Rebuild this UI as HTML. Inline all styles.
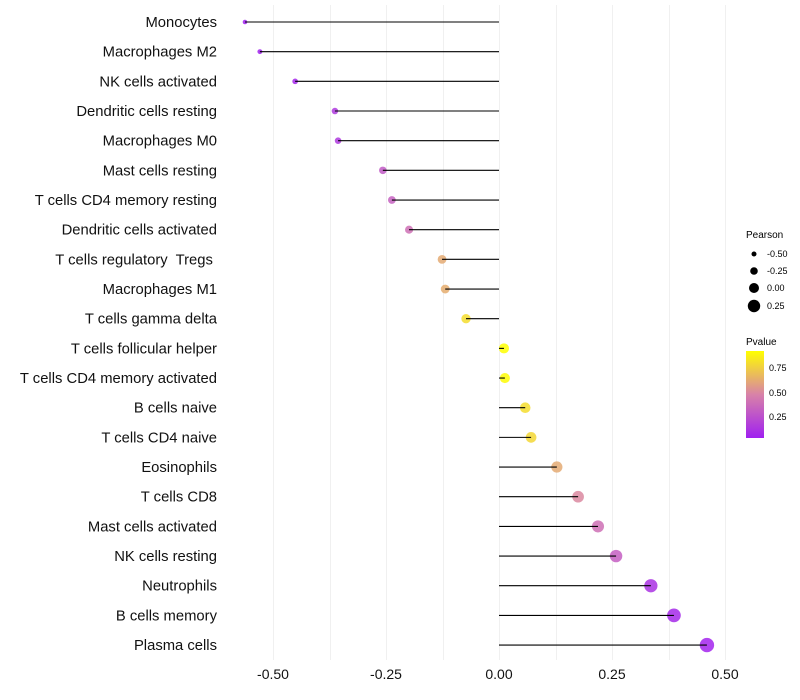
<!DOCTYPE html>
<html><head><meta charset="utf-8"><style>
body{margin:0;background:#fff;font-family:"Liberation Sans",sans-serif;}
svg{display:block}
text{white-space:pre}
</style></head><body>
<svg id="chart" width="800" height="700">
<defs><linearGradient id="pg" x1="0" y1="1" x2="0" y2="0">
<stop offset="0" stop-color="#a020f0"/><stop offset="0.5" stop-color="#d882a8"/><stop offset="1" stop-color="#ffff00"/>
</linearGradient></defs>
<g id="grid"></g><g id="marks"></g><g id="labels"></g>
<g font-size="9" fill="#000">
<text x="746" y="238" font-size="10">Pearson</text>
<circle cx="754" cy="254" r="2.5"/><text x="767" y="257">-0.50</text>
<circle cx="754" cy="271" r="3.8"/><text x="767" y="274">-0.25</text>
<circle cx="754" cy="288" r="5"/><text x="767" y="291">0.00</text>
<circle cx="754" cy="306" r="6.2"/><text x="767" y="309">0.25</text>
</g>
<g font-size="9">
<text x="746" y="345" font-size="10">Pvalue</text>
<rect x="746" y="351" width="18" height="87" fill="url(#pg)"/>
<text x="769" y="371">0.75</text><text x="769" y="396">0.50</text><text x="769" y="420">0.25</text>
</g>
</svg>
<script>
const cells=["Monocytes","Macrophages M2","NK cells activated","Dendritic cells resting","Macrophages M0","Mast cells resting","T cells CD4 memory resting","Dendritic cells activated","T cells regulatory  Tregs ","Macrophages M1","T cells gamma delta","T cells follicular helper","T cells CD4 memory activated","B cells naive","T cells CD4 naive","Eosinophils","T cells CD8","Mast cells activated","NK cells resting","Neutrophils","B cells memory","Plasma cells"];
const pearson=[-0.562,-0.529,-0.451,-0.363,-0.356,-0.257,-0.237,-0.199,-0.126,-0.119,-0.073,0.011,0.013,0.058,0.071,0.128,0.175,0.219,0.259,0.336,0.387,0.460];
const pvalue=[0.04,0.05,0.07,0.15,0.15,0.3,0.33,0.4,0.62,0.63,0.8,0.92,0.91,0.8,0.78,0.62,0.5,0.4,0.32,0.12,0.08,0.06];
const xTicks=[-0.5,-0.25,0,0.25,0.5];
const xTickLabels=["-0.50","-0.25","0.00","0.25","0.50"];
const NS="http://www.w3.org/2000/svg";
const x=v=>499+v*452;
const y=i=>22+i*29.67;
const r=v=>Math.max(1.5,5+4.8*v);
function col(p){const t=Math.max(0,Math.min(1,(p-0.04)/0.88));
const a=[160,32,240],m=[216,130,168],b=[255,255,0];let c;
if(t<0.5){const u=t/0.5;c=a.map((v,k)=>v+(m[k]-v)*u);}else{const u=(t-0.5)/0.5;c=m.map((v,k)=>v+(b[k]-v)*u);}
return `rgb(${c.map(Math.round).join(',')})`;}
function mk(t,at,parent){const e=document.createElementNS(NS,t);for(const k in at)e.setAttribute(k,at[k]);parent.appendChild(e);return e;}
const grid=document.getElementById('grid'),marks=document.getElementById('marks'),labels=document.getElementById('labels');
for(let v=-0.5;v<=0.5001;v+=0.125){const gx=Math.round(x(v))+0.5;const g=mk('line',{x1:gx,x2:gx,y1:5,y2:660,stroke:'#f0f0f0','stroke-width':1},grid);

}
xTicks.forEach((v,i)=>{const t=mk('text',{x:x(v),y:679,'text-anchor':'middle','font-size':14,fill:'#111'},labels);t.textContent=xTickLabels[i];

});
cells.forEach((c,i)=>{
const t=mk('text',{x:217,y:y(i)+5,'text-anchor':'end','font-size':14.8,fill:'#111'},labels);t.textContent=c;


const ci=mk('circle',{cx:x(pearson[i]),cy:y(i),r:r(pearson[i]),fill:col(pvalue[i]),'fill-opacity':0.85},marks);


const l=mk('line',{x1:x(pearson[i]),x2:x(0),y1:y(i),y2:y(i),stroke:'#000','stroke-width':1.1},marks);


});
</script>
</body></html>
